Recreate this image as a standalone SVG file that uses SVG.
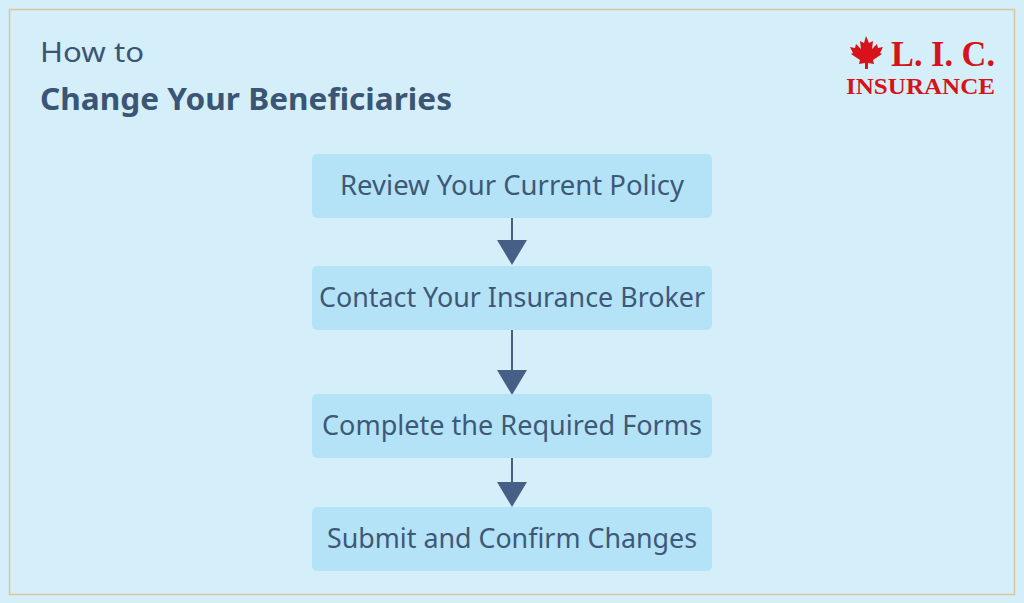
<svg xmlns="http://www.w3.org/2000/svg" width="1024" height="603" viewBox="0 0 1024 603">
<defs>
<style>
.box{fill:#b4e3f8}
.lbl{font-family:"Noto Sans","Open Sans",sans-serif;font-size:27px;fill:#3e5878;text-anchor:middle}
.ln{stroke:#475e86;stroke-width:2}
.hd{fill:#475e86}
.logo{font-family:"Liberation Serif",serif;fill:#d6121a;font-weight:bold}
</style>
</defs>
<rect width="1024" height="603" fill="#d4eff9"/>
<rect x="9.5" y="9.5" width="1005" height="585" fill="none" stroke="#d8c79a" stroke-width="1.5"/>
<text x="40" y="62" font-family="Noto Sans,sans-serif" font-size="28" fill="#3b5575" textLength="104" lengthAdjust="spacingAndGlyphs">How to</text>
<text x="40" y="110" font-family="Noto Sans,sans-serif" font-size="30" font-weight="bold" fill="#3b5575" textLength="412" lengthAdjust="spacingAndGlyphs">Change Your Beneficiaries</text>
<g id="logo">
<path d="M866 36 l3 7 4-2 -1 8 5-5 1 4 5-1 -3 6 2 1 -9 6 1 4 -6-1 0 6 -3 0 0-6 -6 1 1-4 -9-6 2-1 -3-6 5 1 1-4 5 5 -1-8 4 2z" fill="#d6121a"/>
<text class="logo" x="891" y="66" font-size="36" textLength="104" lengthAdjust="spacingAndGlyphs">L. I. C.</text>
<text class="logo" x="846" y="94" font-size="23" textLength="149" lengthAdjust="spacingAndGlyphs">INSURANCE</text>
</g>
<g id="connectors">
<line class="ln" x1="512" y1="218" x2="512" y2="242"/><path class="hd" d="M497 240h30l-15 25z"/>
<line class="ln" x1="512" y1="330" x2="512" y2="372"/><path class="hd" d="M497 370h30l-15 25z"/>
<line class="ln" x1="512" y1="458" x2="512" y2="484"/><path class="hd" d="M497 482h30l-15 25z"/>
</g>
<g id="n1"><rect class="box" x="312" y="154" width="400" height="64" rx="5"/><text class="lbl" x="512" y="195" textLength="344" lengthAdjust="spacingAndGlyphs">Review Your Current Policy</text></g>
<g id="n2"><rect class="box" x="312" y="266" width="400" height="64" rx="5"/><text class="lbl" x="512" y="307" textLength="386" lengthAdjust="spacingAndGlyphs">Contact Your Insurance Broker</text></g>
<g id="n3"><rect class="box" x="312" y="394" width="400" height="64" rx="5"/><text class="lbl" x="512" y="435" textLength="380" lengthAdjust="spacingAndGlyphs">Complete the Required Forms</text></g>
<g id="n4"><rect class="box" x="312" y="507" width="400" height="64" rx="5"/><text class="lbl" x="512" y="548" textLength="370" lengthAdjust="spacingAndGlyphs">Submit and Confirm Changes</text></g>
</svg>
